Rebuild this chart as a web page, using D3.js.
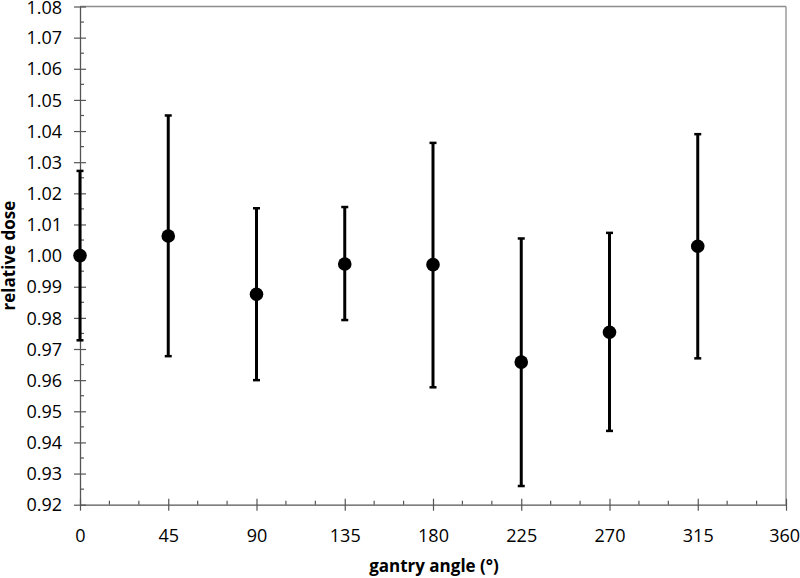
<!DOCTYPE html>
<html><head><meta charset="utf-8">
<script src="https://cdn.jsdelivr.net/npm/d3@7"></script>
<style>body{margin:0;background:#fff}svg{display:block}</style>
</head><body><svg id="c" width="800" height="578"></svg>
<script>
const angles = [0, 45, 90, 135, 180, 225, 270, 315];
const dose   = [1.0000, 1.0063, 0.9876, 0.9973, 0.9971, 0.9658, 0.9754, 1.0030];
const upper  = [1.0272, 1.0450, 1.0152, 1.0156, 1.0362, 1.0055, 1.0073, 1.0390];
const lower  = [0.9728, 0.9677, 0.9600, 0.9793, 0.9577, 0.9260, 0.9437, 0.9670];
const xMajor = [0, 45, 90, 135, 180, 225, 270, 315, 360];
const yMajor = [0.92,0.93,0.94,0.95,0.96,0.97,0.98,0.99,1.00,1.01,1.02,1.03,1.04,1.05,1.06,1.07,1.08];

const svg = d3.select("#c");
const L = 80, R = 786, T = 6.5, B = 504.7;
const x = d3.scaleLinear().domain([0,360]).range([L,R]);
const y = d3.scaleLinear().domain([0.92,1.08]).range([B,T]);
const font = "'Open Sans', sans-serif";

// frame top/right
svg.append("line").attr("x1",L).attr("x2",R).attr("y1",T).attr("y2",T).attr("stroke","#8c8c8c").attr("stroke-width",1.3);
svg.append("line").attr("x1",R).attr("x2",R).attr("y1",T).attr("y2",B).attr("stroke","#8c8c8c").attr("stroke-width",1.3);

// minor ticks
const yMinor = d3.range(0.925, 1.08, 0.01);
svg.append("g").selectAll("line").data(yMinor).join("line")
  .attr("x1",L).attr("x2",L+4).attr("y1",d=>y(d)).attr("y2",d=>y(d)).attr("stroke","#555").attr("stroke-width",1.2);
const xMinor = d3.range(15,360,15).filter(v=>v%45!==0);
svg.append("g").selectAll("line").data(xMinor).join("line")
  .attr("x1",d=>x(d)).attr("x2",d=>x(d)).attr("y1",B).attr("y2",B-4).attr("stroke","#555").attr("stroke-width",1.2);

// y axis
const ya = svg.append("g").attr("transform",`translate(${L},0)`)
  .call(d3.axisLeft(y).tickValues(yMajor).tickFormat(d3.format(".2f")).tickSizeOuter(0).tickSizeInner(6).tickPadding(12));
ya.attr("font-size", null).attr("font-family", null);
ya.select(".domain").attr("stroke","#555").attr("stroke-width",1.3);
ya.selectAll(".tick line").attr("stroke","#555").attr("stroke-width",1.2).attr("x2",6).attr("x1",-6);
ya.selectAll(".tick text").style("font-family",font).style("font-size","18px").attr("fill","#000")
  .attr("dy", d => d === 1.08 ? "0.38em" : "0.34em");

// x axis
const xa = svg.append("g").attr("transform",`translate(0,${B})`)
  .call(d3.axisBottom(x).tickValues(xMajor).tickFormat(d3.format("d")).tickSizeOuter(0).tickSizeInner(6).tickPadding(19));
xa.attr("font-size", null).attr("font-family", null);
xa.select(".domain").attr("stroke","#555").attr("stroke-width",1.3);
xa.selectAll(".tick line").attr("stroke","#555").attr("stroke-width",1.2).attr("y1",-6).attr("y2",6);
xa.selectAll(".tick text").style("font-family",font).style("font-size","18px").attr("fill","#000")
  .attr("dx", d => d === 360 ? "-0.1em" : 0);

// error bars
const data = angles.map((a,i)=>({a, v:dose[i], hi:upper[i], lo:lower[i]}));
const g = svg.append("g");
g.selectAll("line.eb").data(data).join("line").attr("class","eb")
  .attr("x1",d=>x(d.a)).attr("x2",d=>x(d.a)).attr("y1",d=>y(d.hi)).attr("y2",d=>y(d.lo))
  .attr("stroke","#000").attr("stroke-width",3);
g.selectAll("line.ct").data(data).join("line").attr("class","ct")
  .attr("x1",d=>x(d.a)-3.5).attr("x2",d=>x(d.a)+3.5).attr("y1",d=>y(d.hi)).attr("y2",d=>y(d.hi))
  .attr("stroke","#000").attr("stroke-width",2.5);
g.selectAll("line.cb").data(data).join("line").attr("class","cb")
  .attr("x1",d=>x(d.a)-3.5).attr("x2",d=>x(d.a)+3.5).attr("y1",d=>y(d.lo)).attr("y2",d=>y(d.lo))
  .attr("stroke","#000").attr("stroke-width",2.5);
g.selectAll("circle").data(data).join("circle")
  .attr("cx",d=>x(d.a)).attr("cy",d=>y(d.v)).attr("r",6.8).attr("fill","#000");

// axis titles
svg.append("text").attr("x",434).attr("y",572).attr("text-anchor","middle")
  .style("font-family",font).attr("font-weight","bold").style("font-size","17px").text("gantry angle (°)");
svg.append("text").attr("transform",`translate(15,${(T+B)/2}) rotate(-90)`).attr("text-anchor","middle")
  .style("font-family",font).attr("font-weight","bold").style("font-size","17px").text("relative dose");
</script></body></html>
